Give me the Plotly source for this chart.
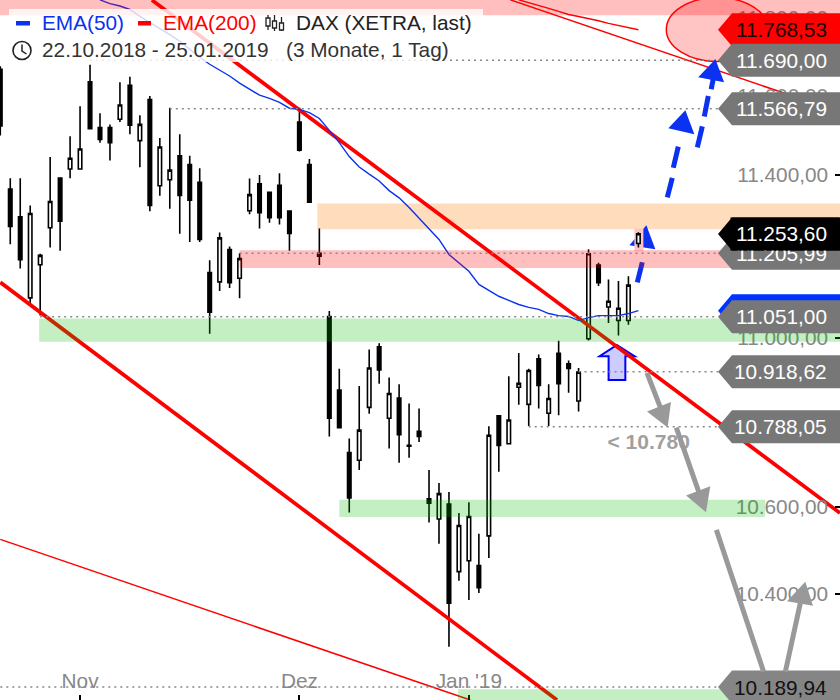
import math
import plotly.graph_objects as go

# ---- daily candles (22.10.2018 - 25.01.2019), index = trading day
days = list(range(65))
opens = [11667,11365,11296,11097,11178,11269,11392,11415,11415,11635,11519,11519,11540,11626,11486,11590,11373,11388,11448,11426,11382,11159,11136,11215,11145,11311,11378,11357,11374,11310,11533,11426,11206,11052,10875,10727,10709,10834,10979,10808,10856,10744,10777,10619,10572,10607,10451,10476,10465,10533,10814,10748,10882,10841,10950,10820,10963,10938,10849,10998,11177,11075,11042,11042,11230]
highs = [11675,11392,11392,11324,11205,11445,11392,11497,11573,11679,11555,11527,11634,11648,11550,11599,11493,11569,11502,11448,11417,11189,11257,11223,11206,11391,11400,11357,11404,11312,11569,11440,11267,11065,10926,10760,10885,10972,10987,10905,10889,10843,10831,10686,10656,10635,10586,10611,10538,10789,10814,10908,10964,10926,10960,10889,10993,10946,10928,11216,11183,11142,11138,11150,11258]
lows = [11499,11228,11169,11081,11054,11220,11212,11392,11414,11516,11481,11436,11533,11502,11419,11310,11348,11316,11254,11234,11234,11010,11114,11121,11096,11302,11267,11281,11277,11212,11459,11332,11177,10765,10786,10587,10686,10819,10890,10737,10703,10715,10752,10564,10515,10280,10430,10386,10402,10482,10682,10748,10840,10790,10831,10790,10815,10869,10824,10994,11126,11036,11006,11032,11220]
closes = [11523,11272,11190,11304,11201,11334,11285,11442,11465,11516,11489,11481,11576,11525,11527,11324,11470,11412,11349,11337,11240,11062,11244,11134,11193,11351,11306,11294,11294,11255,11462,11332,11199,10808,10786,10621,10780,10928,10923,10867,10769,10742,10765,10609,10631,10379,10557,10578,10414,10768,10744,10804,10891,10922,10886,10855,10890,10927,10918,11205,11134,11089,11072,11128,11254]

ema50_days = list(range(10, 65))
ema50 = [11846,11836,11830,11821,11803,11788,11772,11756,11739,11718,11698,11680,11665,11650,11632,11616,11601,11593,11583,11568,11565,11557,11542,11512,11481,11446,11420,11402,11385,11361,11343,11319,11292,11267,11240,11203,11182,11162,11130,11115,11101,11091,11081,11074,11069,11059,11054,11052,11042,11049,11054,11054,11054,11059,11066]
ema200_days = list(range(52, 65))
ema200 = [11846,11839,11831,11824,11816,11808,11803,11798,11792,11785,11779,11774,11768.53]

# ---- axis
y_min, y_max = 10161.0, 11845.6
x_min, x_max = -0.03, 84.22
y_ticks = [10200,10400,10600,10800,11000,11200,11400,11600,11800]
y_tick_text = ["10.200,00","10.400,00","10.600,00","10.800,00","11.000,00","11.200,00","11.400,00","11.600,00","11.800,00"]
x_ticks = [8, 30, 47]
x_tick_text = ["Nov", "Dez", "Jan '19"]

# ---- price labels (value, text, background, text colour)
price_labels = [
    (11768.53, "11.768,53", "#ff0000", "#1a0000"),
    (11690.00, "11.690,00", "#777777", "#ffffff"),
    (11566.79, "11.566,79", "#777777", "#ffffff"),
    (11205.99, "11.205,99", "#777777", "#ffffff"),
    (11253.60, "11.253,60", "#000000", "#ffffff"),
    (11066.00, "", "#0033ff", "#ffffff"),
    (11051.00, "11.051,00", "#777777", "#ffffff"),
    (10918.62, "10.918,62", "#777777", "#ffffff"),
    (10788.05, "10.788,05", "#777777", "#ffffff"),
    (10189.94, "10.189,94", "#858585", "#111111"),
]
# ---- dotted levels (value, first day)
dotted_levels = [(11690,9),(11566.79,17),(11205.99,24),(11051,4),(10918.62,58),(10788.05,53),(10189.94,0)]

# ---- trend lines
thick_up_x, thick_up_y = [15.2, 84.22], [11845.6, 10586]
thick_lo_x, thick_lo_y = [0, 55.84], [11135, 10161]
thin_lo_x, thin_lo_y = [0, 47.14], [10525, 10161]
thin_up_x, thin_up_y = [51.15, 84.22], [11846, 11558]

# ---- zones (day0 or None, day1 or None, low, high, colour, layer)
GREEN = "rgba(0,187,0,0.235)"
PINK = "rgba(255,0,0,0.25)"
zones = [
    (None, None, 11806, 11900, PINK, "above"),
    (31.8, None, 11265, 11329, "rgba(255,122,0,0.263)", "below"),
    (24.0, None, 11170, 11213.5, PINK, "above"),
    (3.9, None, 10991, 11047, GREEN, "above"),
    (34.0, 76.7, 10577, 10617, GREEN, "above"),
    (45.9, None, 10150, 10185, GREEN, "above"),
]

# ---- drawn arrows (day, price)
blue_dashes = [
    [(66.9,11344),(67.4,11393)], [(67.5,11418),(68.0,11471)],
    [(69.91,11469),(70.41,11522)], [(70.61,11547),(71.01,11599)], [(71.3,11616),(71.6,11654)],
]
blue_heads = [
    [(68.71,11563),(67.0,11517),(69.61,11502)],
    [(71.72,11693),(70.0,11647),(72.6,11634)],
]
low_blue_dash = [(63.89,11135),(64.39,11184)]
low_blue_head = [(64.8,11275),(65.7,11216),(63.1,11226)]
gray_lines = [
    [(64.86,10916),(66.2,10834)],
    [(67.8,10786),(70.04,10636)],
    [(71.82,10547),(76.56,10224)],
    [(78.74,10224),(80.24,10379)],
]
gray_heads = [
    [(66.93,10786),(64.86,10824),(67.27,10847)],
    [(70.78,10588),(68.78,10627),(71.21,10648)],
    [(80.74,10428),(78.91,10383),(81.51,10373)],
]
up_arrow = [(61.85,10983),(63.62,10956),(62.69,10956),(62.69,10899),(61.01,10899),(61.01,10956),(60.11,10956)]

FONT = "Liberation Sans, Arial, sans-serif"
FS = 20.8


def px(x, y):
    return x / 840.0, 1 - y / 700.0


def poly(points):
    return "M " + " L ".join(f"{a},{b}" for a, b in points) + " Z"


fig = go.Figure()
fig.add_trace(go.Scatter(x=thin_lo_x, y=thin_lo_y, mode="lines", line=dict(color="#ff0000", width=1.5), hoverinfo="skip"))
fig.add_trace(go.Scatter(x=thin_up_x, y=thin_up_y, mode="lines", line=dict(color="#ff0000", width=1.5), hoverinfo="skip"))
fig.add_trace(go.Scatter(x=thick_lo_x, y=thick_lo_y, mode="lines", line=dict(color="#ff0000", width=3.7), hoverinfo="skip"))
fig.add_trace(go.Scatter(x=thick_up_x, y=thick_up_y, mode="lines", line=dict(color="#ff0000", width=3.7), hoverinfo="skip"))
fig.add_trace(go.Scatter(x=ema50_days, y=ema50, mode="lines", line=dict(color="#0a32f0", width=1.4), hoverinfo="skip"))
fig.add_trace(go.Scatter(x=ema200_days, y=ema200, mode="lines", line=dict(color="#ff0000", width=1.4), hoverinfo="skip"))
fig.add_trace(go.Candlestick(
    x=days, open=opens, high=highs, low=lows, close=closes, whiskerwidth=0,
    increasing=dict(line=dict(color="#000000", width=1.6), fillcolor="#ffffff"),
    decreasing=dict(line=dict(color="#000000", width=1.6), fillcolor="#000000"),
    hoverinfo="skip",
))
fig.add_trace(go.Scatter(x=[60.9], y=[10747], mode="text", text=["< 10.780"], textposition="middle right",
                         textfont=dict(family=FONT, size=21, color="#a0a0a0", weight="bold"), hoverinfo="skip"))

shapes = []
# zones
for d0, d1, lo, hi, col, layer in zones:
    s = dict(type="rect", yref="y", y0=lo, y1=hi, fillcolor=col, line=dict(width=0), layer=layer)
    s.update(xref="x", x0=d0 if d0 is not None else x_min, x1=d1 if d1 is not None else x_max)
    shapes.append(s)
# low blue arrow and the small pink box over it
shapes.append(dict(type="line", xref="x", yref="y", x0=low_blue_dash[0][0], y0=low_blue_dash[0][1], x1=low_blue_dash[1][0], y1=low_blue_dash[1][1],
                   line=dict(color="#0a32f0", width=5), layer="below"))
shapes.append(dict(type="path", xref="x", yref="y", path=poly(low_blue_head), fillcolor="#0a32f0", line=dict(width=0), layer="below"))
shapes.append(dict(type="rect", xref="x", yref="y", x0=63.6, x1=64.5, y0=11211, y1=11267, fillcolor="#ffc4c4", line=dict(width=0), layer="below"))
# outlined up arrow
shapes.append(dict(type="path", xref="x", yref="y", path=poly(up_arrow), fillcolor="#ccccff", line=dict(color="#0000ff", width=2), layer="below"))
# target ellipse
shapes.append(dict(type="circle", xref="x", yref="y", x0=66.8, x1=77.03, y0=11687, y1=11852, fillcolor="rgba(255,0,0,0.23)",
                   line=dict(color="#ff0000", width=1.5), layer="above"))
# dotted levels
for val, d0 in dotted_levels:
    shapes.append(dict(type="line", xref="x", yref="y", x0=d0, x1=72.0, y0=val, y1=val,
                       line=dict(color="#888888", width=1.5, dash="2px,4px"), layer="above"))
# price labels
for val, txt, bg, fg in price_labels:
    shapes.append(dict(type="path", xref="paper", yref="y", xsizemode="pixel", ysizemode="pixel", xanchor=1, yanchor=val,
                       path=poly([(-122, 0), (-108, 16.5), (0, 16.5), (0, -16.5), (-108, -16.5)]),
                       fillcolor=bg, line=dict(width=0), layer="above"))
# gray arrows
for seg in gray_lines:
    shapes.append(dict(type="line", xref="x", yref="y", x0=seg[0][0], y0=seg[0][1], x1=seg[1][0], y1=seg[1][1],
                       line=dict(color="#999999", width=5), layer="above"))
for head in gray_heads:
    shapes.append(dict(type="path", xref="x", yref="y", path=poly(head), fillcolor="#999999", line=dict(width=0), layer="above"))
# blue arrows
for seg in blue_dashes:
    shapes.append(dict(type="line", xref="x", yref="y", x0=seg[0][0], y0=seg[0][1], x1=seg[1][0], y1=seg[1][1],
                       line=dict(color="#0a32f0", width=5), layer="above"))
for head in blue_heads:
    shapes.append(dict(type="path", xref="x", yref="y", path=poly(head), fillcolor="#0a32f0", line=dict(width=0), layer="above"))
# legend backing boxes
for (x0, y0, x1, y1) in [(9, 9, 483, 40), (0, 40, 450, 62)]:
    a, b = px(x0, y0); c, d = px(x1, y1)
    shapes.append(dict(type="rect", xref="paper", yref="paper", x0=a, x1=c, y0=d, y1=b, fillcolor="rgba(255,255,255,0.8)", line=dict(width=0), layer="above"))
# legend swatches
for (x0, y0, x1, y1, col) in [(16, 21, 30, 25.5, "#0a32f0"), (138, 21, 151, 25.5, "#ff0000")]:
    a, b = px(x0, y0); c, d = px(x1, y1)
    shapes.append(dict(type="rect", xref="paper", yref="paper", x0=a, x1=c, y0=d, y1=b, fillcolor=col, line=dict(width=0), layer="above"))
# candle icon
for (cx, t, b1, b2, bot) in [(268, 15, 18, 26, 30), (274.5, 15, 21, 28, 31), (281.5, 17, 23, 30, 31)]:
    a, b = px(cx, t); c, d = px(cx, bot)
    shapes.append(dict(type="line", xref="paper", yref="paper", x0=a, x1=c, y0=b, y1=d, line=dict(color="#222222", width=1.3), layer="above"))
    a, b = px(cx - 2, b1); c, d = px(cx + 2, b2)
    shapes.append(dict(type="rect", xref="paper", yref="paper", x0=a, x1=c, y0=d, y1=b, fillcolor="#ffffff", line=dict(color="#222222", width=1.3), layer="above"))
# clock icon
a, b = px(13, 41.5); c, d = px(31, 59.5)
shapes.append(dict(type="circle", xref="paper", yref="paper", x0=a, x1=c, y0=d, y1=b, fillcolor="#ffffff", line=dict(color="#222222", width=1.6), layer="above"))
a, b = px(22, 44.5); c, d = px(22, 51); e, f = px(26.5, 54)
shapes.append(dict(type="path", xref="paper", yref="paper", path=f"M {a},{b} L {c},{d} L {e},{f}", line=dict(color="#222222", width=1.5), layer="above"))

annotations = []
RIGHT = 828.0 / 840.0
for val, txt, bg, fg in price_labels:
    if not txt:
        continue
    if bg == "#000000":
        annotations.append(dict(xref="paper", yref="y", x=1, y=math.log10(val), xanchor="right", yanchor="middle", text=" ",
                                width=108, height=32, bgcolor=bg, showarrow=False, borderpad=0, font=dict(size=10)))
    annotations.append(dict(xref="paper", yref="y", x=RIGHT, y=math.log10(val), xanchor="right", yanchor="middle", text=txt,
                            showarrow=False, borderpad=0, font=dict(family=FONT, size=FS, color=fg)))
for x, y, txt, col in [(41, 22.5, "EMA(50)", "#0a32f0"), (162, 22.5, "EMA(200)", "#ff0000"), (295, 22.5, "DAX (XETRA, last)", "#222222"),
                       (41, 50, "22.10.2018 - 25.01.2019", "#333333"), (285, 50, "(3 Monate, 1 Tag)", "#333333")]:
    a, b = px(x, y)
    annotations.append(dict(xref="paper", yref="paper", x=a, y=b, xanchor="left", yanchor="middle", text=txt,
                            showarrow=False, borderpad=0, font=dict(family=FONT, size=FS, color=col)))

fig.update_layout(
    width=840, height=700, margin=dict(l=0, r=0, t=0, b=0), paper_bgcolor="#ffffff", plot_bgcolor="#ffffff",
    showlegend=False, boxgap=0.5, shapes=shapes, annotations=annotations,
    font=dict(family=FONT, size=FS, color="#888888"),
    xaxis=dict(range=[x_min, x_max], rangeslider=dict(visible=False), showgrid=False, zeroline=False, showline=False,
               tickmode="array", tickvals=x_ticks, ticktext=x_tick_text, ticks="inside", ticklen=5, tickcolor="#000000", tickwidth=1.5,
               ticklabelposition="inside", ticklabelstandoff=4, tickfont=dict(family=FONT, size=FS, color="#888888")),
    yaxis=dict(type="log", range=[math.log10(y_min), math.log10(y_max)], side="right", showgrid=False, zeroline=False, showline=False,
               tickmode="array", tickvals=y_ticks, ticktext=y_tick_text, ticks="inside", ticklen=5, tickcolor="#000000", tickwidth=1.5,
               ticklabelposition="inside", ticklabelstandoff=8, tickfont=dict(family=FONT, size=FS, color="#888888")),
)
fig.write_html("out.html", config=dict(displayModeBar=False),
               post_script="document.body.style.margin='0';document.body.style.overflow='hidden';")
